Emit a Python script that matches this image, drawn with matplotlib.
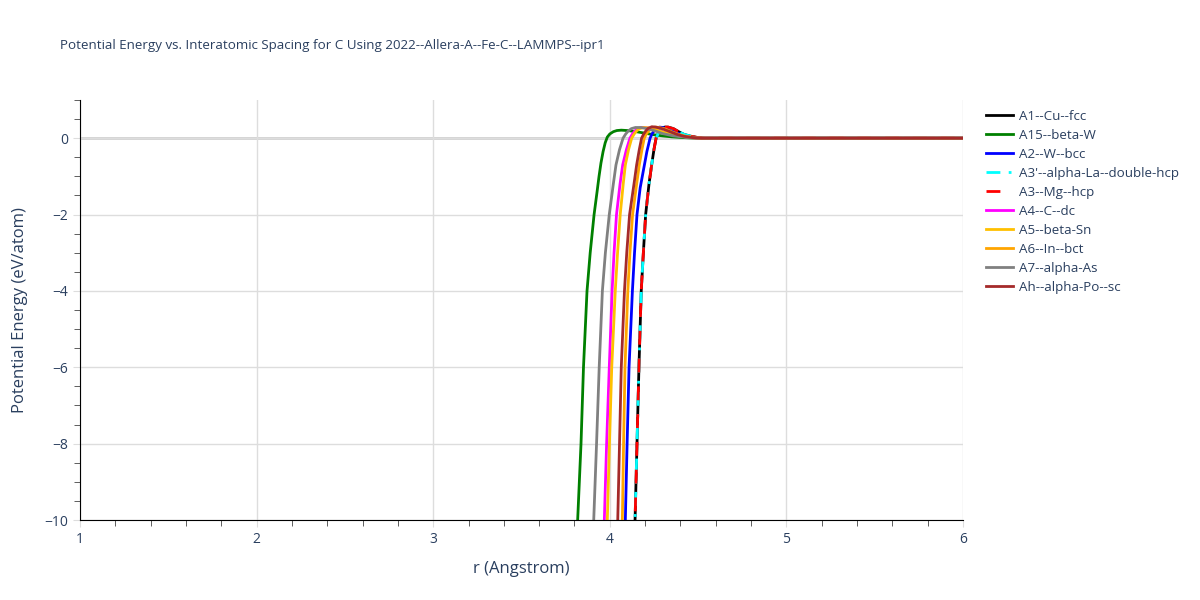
import matplotlib
matplotlib.use("Agg")
import matplotlib.pyplot as plt
from matplotlib.ticker import MultipleLocator

title = "Potential Energy vs. Interatomic Spacing for C Using 2022--Allera-A--Fe-C--LAMMPS--ipr1"

# r (Angstrom) and energy (eV/atom), one pair of lists per structure
r_A1 = [4.138, 4.143, 4.154, 4.165, 4.178, 4.190, 4.203, 4.222, 4.237, 4.250, 4.262, 4.272, 4.282, 4.295, 4.310, 4.330, 4.360, 4.390, 4.420, 4.460, 4.500, 4.530, 6.0]
e_A1 = [-10.5, -10.0, -8.0, -6.0, -4.0, -3.0, -2.0, -1.2, -0.7, -0.3, 0.0, 0.10, 0.18, 0.25, 0.29, 0.29, 0.25, 0.17, 0.10, 0.05, 0.015, 0.0, 0.0]

r_A15 = [3.814, 3.818, 3.837, 3.851, 3.871, 3.889, 3.911, 3.928, 3.939, 3.950, 3.962, 3.974, 3.986, 4.000, 4.020, 4.040, 4.065, 4.100, 4.150, 4.200, 4.250, 4.300, 4.350, 4.400, 4.450, 4.500, 6.0]
e_A15 = [-10.5, -10.0, -8.0, -6.0, -4.0, -3.0, -2.0, -1.4, -1.0, -0.65, -0.35, -0.12, 0.03, 0.11, 0.17, 0.20, 0.21, 0.20, 0.17, 0.13, 0.09, 0.06, 0.035, 0.02, 0.008, 0.0, 0.0]

r_A2 = [4.084, 4.088, 4.098, 4.109, 4.128, 4.140, 4.154, 4.172, 4.188, 4.210, 4.228, 4.240, 4.252, 4.265, 4.282, 4.300, 4.330, 4.370, 4.410, 4.450, 4.490, 4.530, 6.0]
e_A2 = [-10.5, -10.0, -8.0, -6.0, -4.0, -3.0, -2.0, -1.3, -0.9, -0.35, 0.0, 0.12, 0.20, 0.26, 0.29, 0.28, 0.24, 0.16, 0.09, 0.04, 0.01, 0.0, 0.0]

r_A3p = [4.138, 4.143, 4.154, 4.165, 4.178, 4.190, 4.203, 4.222, 4.237, 4.250, 4.262, 4.272, 4.282, 4.295, 4.310, 4.330, 4.360, 4.390, 4.420, 4.460, 4.500, 4.530, 6.0]
e_A3p = [-10.5, -10.0, -8.0, -6.0, -4.0, -3.0, -2.0, -1.2, -0.7, -0.3, 0.0, 0.10, 0.18, 0.25, 0.29, 0.29, 0.25, 0.17, 0.10, 0.05, 0.015, 0.0, 0.0]

r_A3 = [4.138, 4.143, 4.154, 4.165, 4.178, 4.190, 4.203, 4.222, 4.237, 4.250, 4.262, 4.272, 4.282, 4.295, 4.310, 4.330, 4.360, 4.390, 4.420, 4.460, 4.500, 4.530, 6.0]
e_A3 = [-10.5, -10.0, -8.0, -6.0, -4.0, -3.0, -2.0, -1.2, -0.7, -0.3, 0.0, 0.10, 0.18, 0.25, 0.29, 0.29, 0.25, 0.17, 0.10, 0.05, 0.015, 0.0, 0.0]

r_A4 = [3.965, 3.969, 3.982, 3.997, 4.013, 4.024, 4.038, 4.058, 4.073, 4.094, 4.114, 4.128, 4.142, 4.158, 4.180, 4.210, 4.250, 4.300, 4.350, 4.400, 4.460, 4.520, 6.0]
e_A4 = [-10.5, -10.0, -8.0, -6.0, -4.0, -3.0, -2.0, -1.2, -0.7, -0.3, 0.0, 0.11, 0.19, 0.25, 0.28, 0.27, 0.23, 0.16, 0.10, 0.05, 0.015, 0.0, 0.0]

r_A5 = [3.982, 3.986, 3.998, 4.011, 4.031, 4.044, 4.059, 4.076, 4.088, 4.106, 4.124, 4.138, 4.152, 4.168, 4.190, 4.220, 4.260, 4.300, 4.350, 4.400, 4.460, 4.520, 6.0]
e_A5 = [-10.5, -10.0, -8.0, -6.0, -4.0, -3.0, -2.0, -1.2, -0.7, -0.3, 0.0, 0.11, 0.19, 0.25, 0.28, 0.27, 0.22, 0.16, 0.10, 0.05, 0.015, 0.0, 0.0]

r_A6 = [4.067, 4.071, 4.078, 4.086, 4.102, 4.114, 4.129, 4.152, 4.167, 4.182, 4.195, 4.207, 4.220, 4.235, 4.255, 4.280, 4.315, 4.350, 4.390, 4.430, 4.480, 4.520, 6.0]
e_A6 = [-10.5, -10.0, -8.0, -6.0, -4.0, -3.0, -2.0, -1.2, -0.7, -0.3, 0.0, 0.11, 0.19, 0.25, 0.29, 0.28, 0.24, 0.17, 0.10, 0.05, 0.015, 0.0, 0.0]

r_A7 = [3.905, 3.909, 3.925, 3.940, 3.958, 3.975, 3.997, 4.020, 4.035, 4.055, 4.075, 4.090, 4.105, 4.122, 4.145, 4.175, 4.210, 4.250, 4.300, 4.360, 4.440, 4.520, 6.0]
e_A7 = [-10.5, -10.0, -8.0, -6.0, -4.0, -3.0, -2.0, -1.2, -0.7, -0.3, 0.0, 0.11, 0.19, 0.25, 0.28, 0.28, 0.25, 0.20, 0.12, 0.06, 0.02, 0.0, 0.0]

r_Ah = [4.041, 4.045, 4.055, 4.065, 4.083, 4.096, 4.112, 4.137, 4.152, 4.167, 4.180, 4.192, 4.204, 4.218, 4.238, 4.262, 4.295, 4.335, 4.380, 4.420, 4.470, 4.520, 6.0]
e_Ah = [-10.5, -10.0, -8.0, -6.0, -4.0, -3.0, -2.0, -1.2, -0.7, -0.3, 0.0, 0.11, 0.19, 0.26, 0.30, 0.29, 0.25, 0.18, 0.10, 0.05, 0.015, 0.0, 0.0]

series = [
    ("A1--Cu--fcc", r_A1, e_A1, "black", "-"),
    ("A15--beta-W", r_A15, e_A15, "green", "-"),
    ("A2--W--bcc", r_A2, e_A2, "blue", "-"),
    ("A3'--alpha-La--double-hcp", r_A3p, e_A3p, "cyan", (0, (5, 3, 1, 3))),
    ("A3--Mg--hcp", r_A3, e_A3, "red", (0, (5, 5))),
    ("A4--C--dc", r_A4, e_A4, "magenta", "-"),
    ("A5--beta-Sn", r_A5, e_A5, "#ffc000", "-"),
    ("A6--In--bct", r_A6, e_A6, "orange", "-"),
    ("A7--alpha-As", r_A7, e_A7, "gray", "-"),
    ("Ah--alpha-Po--sc", r_Ah, e_Ah, "brown", "-"),
]

text_col = "#2a3f5f"
plt.rcParams['font.family'] = ['Open Sans', 'DejaVu Sans']

fig = plt.figure(figsize=(12, 6), dpi=100)
ax = fig.add_axes([80 / 1200, 80 / 600, 883 / 1200, 420 / 600])

for name, r, e, col, ls in series:
    ax.plot(r, e, color=col, linestyle=ls, linewidth=2, label=name)

ax.set_xlim(1, 6)
ax.set_ylim(-10, 1)
ax.xaxis.set_major_locator(MultipleLocator(1))
ax.xaxis.set_minor_locator(MultipleLocator(0.2))
ax.yaxis.set_major_locator(MultipleLocator(2))
ax.yaxis.set_minor_locator(MultipleLocator(0.5))
ax.grid(True, which="major", color="#dddddd", linewidth=1)
ax.axhline(0, color="#d0d0d0", linewidth=2, zorder=0.5)
ax.set_axisbelow(True)

for s in ["top", "right"]:
    ax.spines[s].set_visible(False)
ax.spines["left"].set_color("black")
ax.spines["bottom"].set_color("black")
ax.tick_params(which="major", length=5, color="#dddddd", labelsize=10, labelcolor=text_col)
ax.tick_params(which="minor", length=4, color="#444444")
ax.set_yticklabels([f"{v:g}".replace("-", "\u2212") for v in ax.get_yticks()])

ax.set_xlabel("r (Angstrom)", fontsize=12, color=text_col, labelpad=10)
ax.set_ylabel("Potential Energy (eV/atom)", fontsize=12, color=text_col, labelpad=12)
fig.text(60 / 1200, 1 - 45 / 600, title, fontsize=9.6, color=text_col, va="center", ha="left")

leg = ax.legend(loc="upper left", bbox_to_anchor=(1.02, 0.99), frameon=False, fontsize=9.6,
                handlelength=2.0, handletextpad=0.5, labelspacing=0.45, borderaxespad=0)
for t in leg.get_texts():
    t.set_color(text_col)

fig.savefig("out.png", dpi=100)
